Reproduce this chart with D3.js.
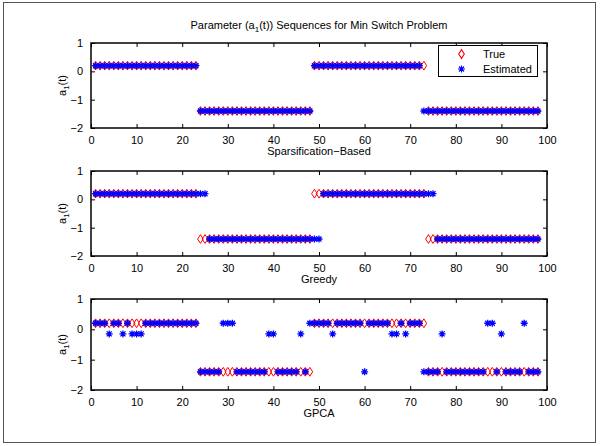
<!DOCTYPE html>
<html>
<head>
<meta charset="utf-8">
<script src="https://cdn.jsdelivr.net/npm/d3@7"></script>
<style>
  body { margin: 0; background: #fff; }
  text { font-family: "Liberation Sans", Arial, sans-serif; font-size: 11px; fill: #000; }
</style>
</head>
<body>
<svg id="fig" width="606" height="446"></svg>
<script>
// time steps
const tSteps = d3.range(1, 99);

// true parameter sequence (same in every panel)
const trueA1 = [
  0.2,0.2,0.2,0.2,0.2,0.2,0.2,0.2,0.2,0.2,0.2,0.2,0.2,0.2,0.2,0.2,0.2,0.2,0.2,0.2,0.2,0.2,0.2,
  -1.4,-1.4,-1.4,-1.4,-1.4,-1.4,-1.4,-1.4,-1.4,-1.4,-1.4,-1.4,-1.4,-1.4,-1.4,-1.4,-1.4,-1.4,-1.4,-1.4,-1.4,-1.4,-1.4,-1.4,-1.4,
  0.2,0.2,0.2,0.2,0.2,0.2,0.2,0.2,0.2,0.2,0.2,0.2,0.2,0.2,0.2,0.2,0.2,0.2,0.2,0.2,0.2,0.2,0.2,0.2,0.2,
  -1.4,-1.4,-1.4,-1.4,-1.4,-1.4,-1.4,-1.4,-1.4,-1.4,-1.4,-1.4,-1.4,-1.4,-1.4,-1.4,-1.4,-1.4,-1.4,-1.4,-1.4,-1.4,-1.4,-1.4,-1.4
];

const sparseA1 = [
  0.2,0.2,0.2,0.2,0.2,0.2,0.2,0.2,0.2,0.2,0.2,0.2,0.2,0.2,0.2,0.2,0.2,0.2,0.2,0.2,0.2,0.2,0.2,
  -1.4,-1.4,-1.4,-1.4,-1.4,-1.4,-1.4,-1.4,-1.4,-1.4,-1.4,-1.4,-1.4,-1.4,-1.4,-1.4,-1.4,-1.4,-1.4,-1.4,-1.4,-1.4,-1.4,-1.4,-1.4,
  0.2,0.2,0.2,0.2,0.2,0.2,0.2,0.2,0.2,0.2,0.2,0.2,0.2,0.2,0.2,0.2,0.2,0.2,0.2,0.2,0.2,0.2,0.2,0.2,
  -1.4,-1.4,-1.4,-1.4,-1.4,-1.4,-1.4,-1.4,-1.4,-1.4,-1.4,-1.4,-1.4,-1.4,-1.4,-1.4,-1.4,-1.4,-1.4,-1.4,-1.4,-1.4,-1.4,-1.4,-1.4,-1.4
];

const greedyA1 = [
  0.2,0.2,0.2,0.2,0.2,0.2,0.2,0.2,0.2,0.2,0.2,0.2,0.2,0.2,0.2,0.2,0.2,0.2,0.2,0.2,0.2,0.2,0.2,0.2,0.2,
  -1.4,-1.4,-1.4,-1.4,-1.4,-1.4,-1.4,-1.4,-1.4,-1.4,-1.4,-1.4,-1.4,-1.4,-1.4,-1.4,-1.4,-1.4,-1.4,-1.4,-1.4,-1.4,-1.4,-1.4,-1.4,
  0.2,0.2,0.2,0.2,0.2,0.2,0.2,0.2,0.2,0.2,0.2,0.2,0.2,0.2,0.2,0.2,0.2,0.2,0.2,0.2,0.2,0.2,0.2,0.2,0.2,
  -1.4,-1.4,-1.4,-1.4,-1.4,-1.4,-1.4,-1.4,-1.4,-1.4,-1.4,-1.4,-1.4,-1.4,-1.4,-1.4,-1.4,-1.4,-1.4,-1.4,-1.4,-1.4,-1.4
];

const gpcaA1 = [
  0.2,0.2,0.2,-0.15,0.2,0.2,-0.15,0.2,-0.15,-0.15,-0.15,
  0.2,0.2,0.2,0.2,0.2,0.2,0.2,0.2,0.2,0.2,0.2,0.2,
  -1.4,-1.4,-1.4,-1.4,-1.4, 0.2,0.2,0.2,
  -1.4,-1.4,-1.4,-1.4,-1.4,-1.4,-1.4, -0.15,-0.15,
  -1.4,-1.4,-1.4,-1.4,-1.4, -0.15, -1.4, 0.2,
  0.2,0.2,0.2,0.2, -0.15, 0.2,0.2,0.2,0.2,0.2,0.2, -1.4,
  0.2,0.2,0.2,0.2,0.2, -0.15,-0.15, 0.2, -0.15, 0.2,0.2,0.2, -1.4,
  -1.4,-1.4,-1.4, -0.15, -1.4,-1.4,-1.4,-1.4,-1.4,-1.4,-1.4,-1.4,-1.4,
  0.2,0.2, -1.4, -0.15, -1.4,-1.4,-1.4,-1.4, 0.2, -1.4,-1.4,-1.4
];

const panelNames = ["Sparsification\u2212Based", "Greedy", "GPCA"];
const xTicks = [0, 10, 20, 30, 40, 50, 60, 70, 80, 90, 100];
const yTicks = [-2, -1, 0, 1];

const svg = d3.select("#fig");

// figure frame
svg.append("rect")
  .attr("x", 3.5).attr("y", 2.5)
  .attr("width", 592).attr("height", 440)
  .attr("fill", "none").attr("stroke", "#555").attr("stroke-width", 1);

const left = 91, right = 547;
const panels = [
  { top: 43, bottom: 128, est: sparseA1 },
  { top: 171, bottom: 256, est: greedyA1 },
  { top: 299, bottom: 390, est: gpcaA1 }
];

const x = d3.scaleLinear().domain([0, 100]).range([left, right]);

const diamondPath = "M0,-4.4L2.8,0L0,4.4L-2.8,0Z";
const starPath = "M-3.5,0H3.5M0,-3.5V3.5M-2.5,-2.5L2.5,2.5M-2.5,2.5L2.5,-2.5";

panels.forEach(function(p, i) {
  const y = d3.scaleLinear().domain([-2, 1]).range([p.bottom, p.top]);
  const g = svg.append("g");

  // true values
  g.selectAll(".tr")
    .data(tSteps)
    .enter().append("path")
    .attr("d", diamondPath)
    .attr("transform", function(t, k) { return "translate(" + x(t) + "," + y(trueA1[k]) + ")"; })
    .attr("fill", "none").attr("stroke", "#ff0000").attr("stroke-width", 1);

  // estimated values
  g.selectAll(".es")
    .data(tSteps)
    .enter().append("path")
    .attr("d", starPath)
    .attr("transform", function(t, k) { return "translate(" + x(t) + "," + y(p.est[k]) + ")"; })
    .attr("fill", "none").attr("stroke", "#0000ff").attr("stroke-width", 1.3);

  // axes: ticks inward on all four sides
  const bottomAx = d3.axisBottom(x).tickValues(xTicks).tickSize(-4).tickPadding(8)
    .tickFormat(d3.format("d"));
  const topAx = d3.axisTop(x).tickValues(xTicks).tickSize(-4).tickFormat("");
  const leftAx = d3.axisLeft(y).tickValues(yTicks).tickSize(-4).tickPadding(8)
    .tickFormat(function(d) { return d < 0 ? "\u2212" + Math.abs(d) : d; });
  const rightAx = d3.axisRight(y).tickValues(yTicks).tickSize(-4).tickFormat("");

  const gb = g.append("g").attr("transform", "translate(0," + p.bottom + ")").call(bottomAx);
  const gt = g.append("g").attr("transform", "translate(0," + p.top + ")").call(topAx);
  const gl = g.append("g").attr("transform", "translate(" + left + ",0)").call(leftAx);
  const gr = g.append("g").attr("transform", "translate(" + right + ",0)").call(rightAx);
  [gb, gt, gl, gr].forEach(function(a) {
    a.select(".domain").remove();
    a.selectAll("line").attr("stroke", "#000").attr("stroke-width", 1);
    a.selectAll("text").attr("font-size", 11).attr("font-family", "Liberation Sans, Arial, sans-serif").attr("fill", "#000");
  });

  // box
  g.append("rect")
    .attr("x", left).attr("y", p.top)
    .attr("width", right - left).attr("height", p.bottom - p.top)
    .attr("fill", "none").attr("stroke", "#000").attr("stroke-width", 1.5);

  // x label
  g.append("text")
    .attr("x", (left + right) / 2).attr("y", p.bottom + 27)
    .attr("text-anchor", "middle")
    .text(panelNames[i]);

  // y label a_1(t)
  const yl = g.append("text")
    .attr("transform", "translate(66," + ((p.top + p.bottom) / 2) + ") rotate(-90)")
    .attr("text-anchor", "middle");
  yl.append("tspan").text("a");
  yl.append("tspan").attr("font-size", 8).attr("dy", 3).text("1");
  yl.append("tspan").attr("dy", -3).text("(t)");
});

// title
const title = svg.append("text")
  .attr("x", (left + right) / 2).attr("y", 29)
  .attr("text-anchor", "middle");
title.append("tspan").text("Parameter (a");
title.append("tspan").attr("font-size", 8).attr("dy", 3).text("1");
title.append("tspan").attr("dy", -3).text("(t)) Sequences for Min Switch Problem");

// legend
const lg = svg.append("g");
lg.append("rect")
  .attr("x", 438.5).attr("y", 45.5).attr("width", 99).attr("height", 31)
  .attr("fill", "#fff").attr("stroke", "#000").attr("stroke-width", 1);
const legendItems = [
  { label: "True", path: diamondPath, color: "#ff0000", y: 54 },
  { label: "Estimated", path: starPath, color: "#0000ff", y: 69 }
];
legendItems.forEach(function(it) {
  lg.append("path").attr("d", it.path)
    .attr("transform", "translate(461.5," + it.y + ")")
    .attr("fill", "none").attr("stroke", it.color).attr("stroke-width", 1.1);
  lg.append("text").attr("x", 483).attr("y", it.y + 4).text(it.label);
});
</script>
</body>
</html>
